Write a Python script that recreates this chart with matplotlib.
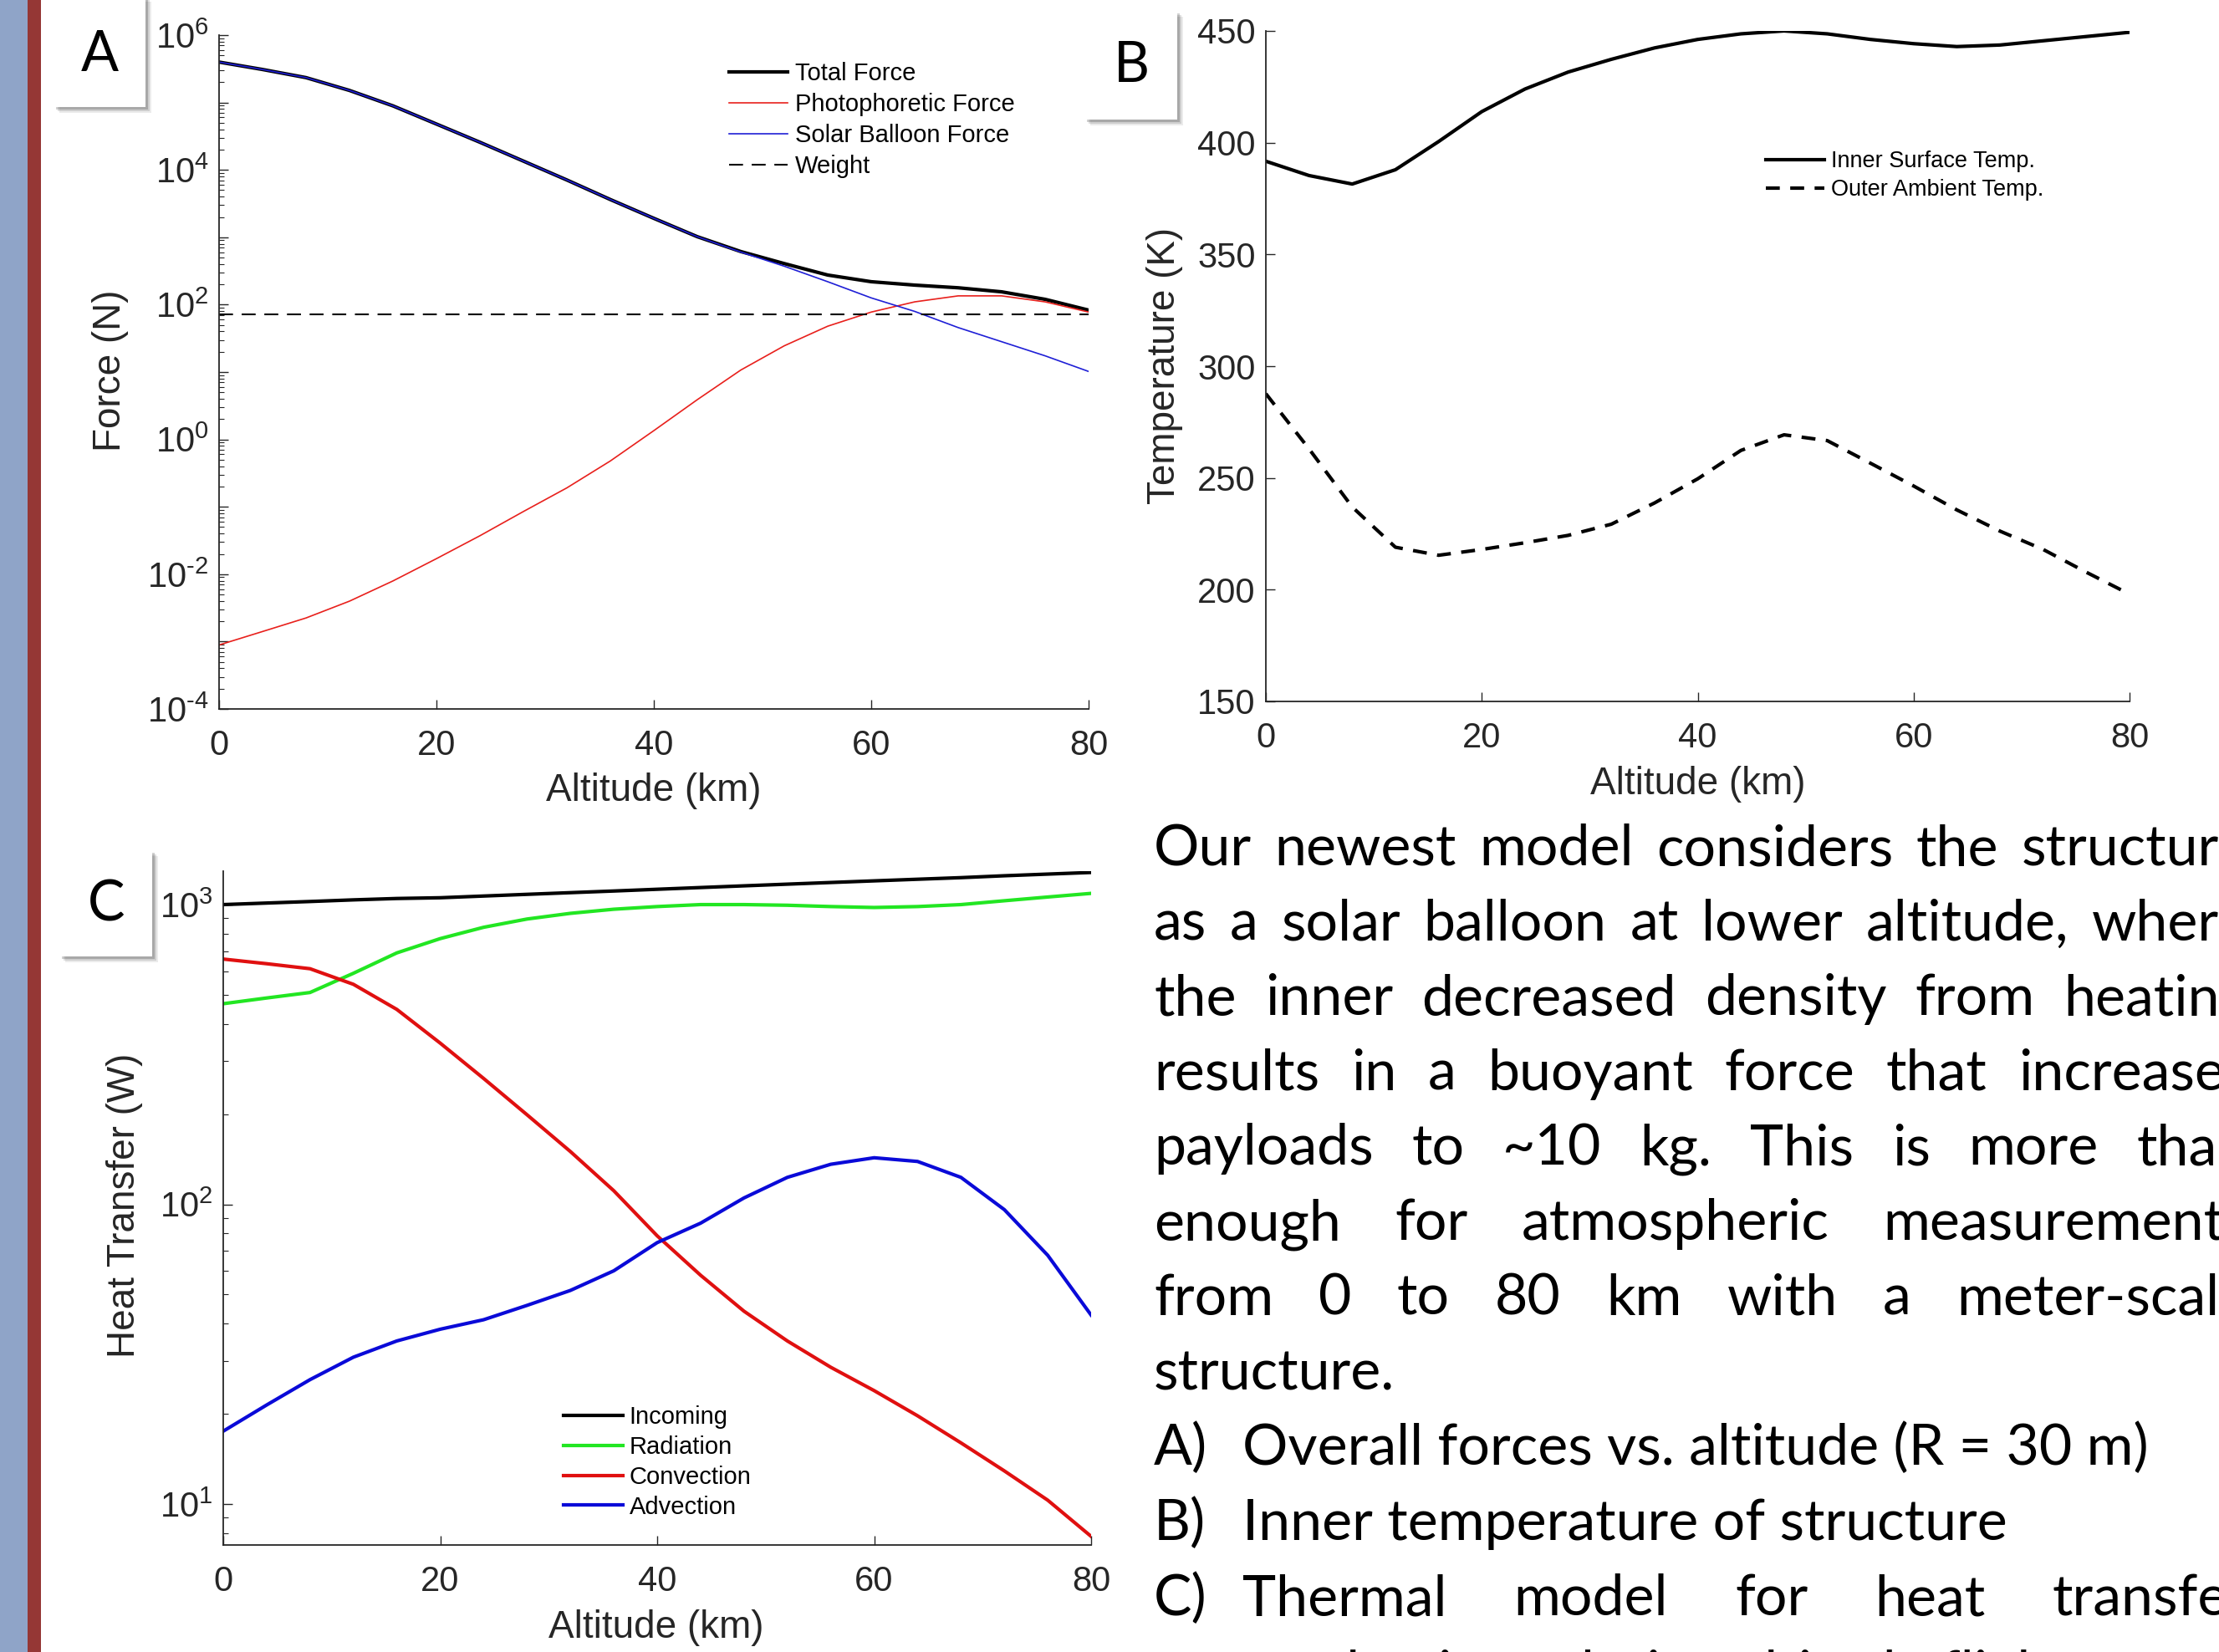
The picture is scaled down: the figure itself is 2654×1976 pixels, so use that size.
import numpy as np
import matplotlib
matplotlib.use("Agg")
import matplotlib.pyplot as plt
from matplotlib.patches import Rectangle
from matplotlib.ticker import FixedLocator, FuncFormatter, NullFormatter, LogLocator

# ---------------- data ----------------
altitude_km = [0, 4, 8, 12, 16, 20, 24, 28, 32, 36, 40, 44, 48, 52, 56, 60, 64, 68, 72, 76, 80]

# Panel A: forces (N)
total_force = [398000, 309000, 234000, 151000, 89100, 47900, 25700, 13500, 7080, 3630,
               1910, 1020, 614, 407, 275, 219, 195, 178, 155, 120, 83]
photophoretic_force = [8.9e-4, 1.41e-3, 2.24e-3, 3.98e-3, 7.94e-3, 0.017, 0.0372, 0.0851,
                       0.191, 0.479, 1.35, 3.89, 10.7, 24.5, 47.9, 77.6, 110, 135, 135, 110, 77.6]
solar_balloon_force = [398000, 309000, 234000, 151000, 89100, 47900, 25700, 13500, 7080, 3630,
                       1910, 1020, 603, 372, 219, 126, 79.4, 45.7, 28.2, 17.4, 10.2]
weight_N = 71.0

# Panel B: temperatures (K)
inner_surface_temp = [391.7, 385.3, 381.5, 387.9, 400.5, 413.9, 424.0, 431.6, 437.3, 442.4,
                      446.2, 448.7, 450.0, 448.7, 446.2, 444.3, 443.0, 443.7, 445.6, 447.5, 449.4]
outer_ambient_temp = [287.7, 263.0, 237.0, 219.0, 215.4, 218.0, 221.0, 224.3, 229.3, 238.8,
                      249.6, 262.3, 269.3, 266.7, 256.6, 246.4, 235.7, 226.2, 218.0, 207.8, 198.0]

# Panel C: heat transfer (W)
incoming = [1000, 1012, 1024, 1037, 1048, 1054, 1068, 1082, 1096, 1110,
            1125, 1140, 1155, 1170, 1185, 1200, 1215, 1230, 1248, 1264, 1280]
radiation = [467, 488, 509, 590, 690, 770, 840, 895, 935, 965,
             985, 1000, 1000, 995, 985, 978, 985, 1000, 1030, 1060, 1090]
convection = [658, 635, 611, 542, 447, 345, 263, 199, 150, 111,
              78.5, 58, 44, 35, 28.6, 23.9, 19.7, 16.0, 12.9, 10.3, 7.8]
advection = [17.5, 21.4, 26, 30.9, 35, 38.3, 41.2, 46, 51.6, 60,
             74.5, 86.5, 105, 123, 136, 143, 139, 123, 96, 67.6, 42.7]

x_ticks = [0, 20, 40, 60, 80]
temp_ticks = [150, 200, 250, 300, 350, 400, 450]

paragraph_lines = [
    "Our newest model considers the structure",
    "as a solar balloon at lower altitude, where",
    "the inner decreased density from heating",
    "results in a buoyant force that increases",
    "payloads to ~10 kg. This is more than",
    "enough for atmospheric measurements",
    "from 0 to 80 km with a meter-scale",
    "structure.",
]
list_items = [
    ("A)", "Overall forces vs. altitude (R = 30 m)", False),
    ("B)", "Inner temperature of structure", False),
    ("C)", "Thermal model for heat transfer", True),
    ("", "mechanisms during altitude flight", False),
]

# ---------------- style ----------------
W, H, DPI = 2654, 1976, 100
plt.rcParams["font.family"] = ["Liberation Sans", "DejaVu Sans"]
plt.rcParams["mathtext.fontset"] = "custom"
plt.rcParams["mathtext.rm"] = "Liberation Sans"
plt.rcParams["mathtext.default"] = "regular"
AX_COL = "#262626"
TICK_FS = 30
LABEL_FS = 33
LEG_FS = 21

fig = plt.figure(figsize=(W / DPI, H / DPI), dpi=DPI)
fig.patch.set_facecolor("white")


def fx(x):
    return x / W


def fy(y):
    return 1 - y / H


def add_axes_px(l, t, r, b):
    return fig.add_axes([fx(l), fy(b), (r - l) / W, (b - t) / H])


# left decorative strips
fig.add_artist(Rectangle((0, 0), fx(33), 1, transform=fig.transFigure,
                         facecolor="#8fa4c8", edgecolor="none", zorder=0))
fig.add_artist(Rectangle((fx(33), 0), fx(16), 1, transform=fig.transFigure,
                         facecolor="#953735", edgecolor="none", zorder=0))


def style_axes(ax):
    for s in ["top", "right"]:
        ax.spines[s].set_visible(False)
    for s in ["left", "bottom"]:
        ax.spines[s].set_color(AX_COL)
        ax.spines[s].set_linewidth(1.3)
    ax.tick_params(which="both", direction="in", colors=AX_COL, labelsize=TICK_FS,
                   top=False, right=False)
    ax.tick_params(which="major", length=8, width=1.0)
    ax.tick_params(which="minor", length=4.5, width=0.8)
    ax.tick_params(axis="x", pad=17)
    ax.tick_params(axis="y", pad=9)
    ax.set_xlim(0, 80)
    ax.xaxis.set_major_locator(FixedLocator(x_ticks))
    ax.set_facecolor("none")


def log_fmt(even_only):
    def f(v, p):
        e = int(round(np.log10(v)))
        if even_only and e % 2:
            return ""
        if e < 0:
            return r"$\mathregular{10^{\text{-}%d}}$" % (-e)
        return r"$\mathregular{10^{%d}}$" % e
    return FuncFormatter(f)


# ---------------- Panel A ----------------
axA = add_axes_px(262, 42, 1302, 848)
style_axes(axA)
axA.set_yscale("log")
axA.set_ylim(1e-4, 1e6)
lt, = axA.plot(altitude_km, total_force, color="black", lw=3.0, label="Total Force")
lp, = axA.plot(altitude_km, photophoretic_force, color="#e8201c", lw=1.2, label="Photophoretic Force")
ls, = axA.plot(altitude_km, solar_balloon_force, color="#1f1fd6", lw=1.2, label="Solar Balloon Force")
lw_ = axA.axhline(weight_N, color="black", lw=1.5, dashes=(8, 5), label="Weight")
axA.yaxis.set_major_locator(FixedLocator([10.0 ** k for k in range(-4, 7)]))
axA.yaxis.set_major_formatter(log_fmt(True))
axA.yaxis.set_minor_locator(LogLocator(base=10, subs=np.arange(2, 10), numticks=100))
axA.yaxis.set_minor_formatter(NullFormatter())
axA.legend(handles=[lt, lp, ls, lw_], loc="upper left",
           bbox_to_anchor=(fx(872), fy(74)), bbox_transform=fig.transFigure,
           frameon=False, borderpad=0, borderaxespad=0, fontsize=LEG_FS,
           handlelength=2.4, handletextpad=0.3, labelspacing=0.31)

# ---------------- Panel B ----------------
axB = add_axes_px(1514, 37, 2547, 839)
style_axes(axB)
axB.set_ylim(150, 450)
axB.yaxis.set_major_locator(FixedLocator(temp_ticks))
li, = axB.plot(altitude_km, inner_surface_temp, color="black", lw=3.0, label="Inner Surface Temp.")
lo, = axB.plot(altitude_km, outer_ambient_temp, color="black", lw=3.0, dashes=(4, 3),
               label="Outer Ambient Temp.")
axB.legend(handles=[li, lo], loc="upper left",
           bbox_to_anchor=(fx(2112), fy(180)), bbox_transform=fig.transFigure,
           frameon=False, borderpad=0, borderaxespad=0, fontsize=19.5,
           handlelength=2.6, handletextpad=0.27, labelspacing=0.31)

# ---------------- Panel C ----------------
axC = add_axes_px(267, 1042, 1305, 1848)
style_axes(axC)
axC.set_yscale("log")
axC.set_ylim(7.3, 1293)
l1, = axC.plot(altitude_km, incoming, color="black", lw=3.0, label="Incoming")
l2, = axC.plot(altitude_km, radiation, color="#22e622", lw=3.0, label="Radiation")
l3, = axC.plot(altitude_km, convection, color="#e01010", lw=3.0, label="Convection")
l4, = axC.plot(altitude_km, advection, color="#0a0ad8", lw=3.0, label="Advection")
axC.yaxis.set_major_locator(FixedLocator([10.0, 100.0, 1000.0]))
axC.yaxis.set_major_formatter(log_fmt(False))
axC.yaxis.set_minor_locator(LogLocator(base=10, subs=np.arange(2, 10), numticks=100))
axC.yaxis.set_minor_formatter(NullFormatter())
axC.legend(handles=[l1, l2, l3, l4], loc="upper left",
           bbox_to_anchor=(fx(674), fy(1681)), bbox_transform=fig.transFigure,
           frameon=False, borderpad=0, borderaxespad=0, fontsize=LEG_FS,
           handlelength=2.45, handletextpad=0.24, labelspacing=0.27)

# axis labels
lab_kw = dict(fontsize=LABEL_FS, color=AX_COL, ha="center", va="center")
fig.text(fx(782), fy(946), "Altitude (km)", **lab_kw)
fig.text(fx(2031), fy(938), "Altitude (km)", **lab_kw)
fig.text(fx(785), fy(1947), "Altitude (km)", **lab_kw)
fig.text(fx(132), fy(443), "Force (N)", rotation=90, **lab_kw)
fig.text(fx(1393), fy(437), "Temperature (K)", rotation=90, **lab_kw)
fig.text(fx(149), fy(1442), "Heat Transfer (W)", rotation=90, **lab_kw)

# panel label boxes with shadow
LABEL_FONT = ["Lato", "DejaVu Sans"]
for (l, t, r, b, letter, cx, cy) in [(64, -5, 174, 128, "A", 119, 66),
                                      (1297, 13, 1408, 143, "B", 1353, 79),
                                      (71, 1017, 182, 1144, "C", 127, 1082)]:
    for k, a in [(7, 0.08), (5, 0.12), (3, 0.18)]:
        fig.add_artist(Rectangle((fx(l + k), fy(b + k)), (r - l) / W, (b - t) / H,
                                 transform=fig.transFigure, facecolor="black",
                                 alpha=a, edgecolor="none", zorder=5))
    fig.add_artist(Rectangle((fx(l), fy(b)), (r - l) / W, (b - t) / H,
                             transform=fig.transFigure, facecolor="white",
                             edgecolor="none", zorder=6))
    fig.text(fx(cx), fy(cy), letter, family=LABEL_FONT, fontsize=48, color="black",
             ha="center", va="center", zorder=7)

# ---------------- body text (justified, clipped by the page edge as in the poster) ----------------
renderer = fig.canvas.get_renderer()
BODY_FONT = ["Lato", "DejaVu Sans"]
BODY_FS = 49
TXT_L, TXT_IND, TXT_R = 1380, 1486, 2690


def measure(s):
    t = fig.text(0, 0, s, family=BODY_FONT, fontsize=BODY_FS)
    w = t.get_window_extent(renderer).width
    t.remove()
    return w


def put(s, x, y):
    fig.text(fx(x), fy(y), s, family=BODY_FONT, fontsize=BODY_FS, color="black",
             ha="left", va="baseline")


def draw_justified(line, x0, x1, y):
    words = line.split()
    widths = [measure(w) for w in words]
    gap = (x1 - x0 - sum(widths)) / max(len(words) - 1, 1)
    x = x0
    for w, wd in zip(words, widths):
        put(w, x, y)
        x += wd + gap


base0, step = 1035, 89.6
for i, line in enumerate(paragraph_lines):
    y = base0 + i * step
    if i < len(paragraph_lines) - 1:
        draw_justified(line, TXT_L, TXT_R, y)
    else:
        put(line, TXT_L, y)

for j, (tag, body, just) in enumerate(list_items):
    y = 1752 + j * 90
    if tag:
        put(tag, TXT_L, y)
    if just:
        draw_justified(body, TXT_IND, TXT_R, y)
    else:
        put(body, TXT_IND, y)

fig.savefig("out.png", dpi=DPI, facecolor="white")
